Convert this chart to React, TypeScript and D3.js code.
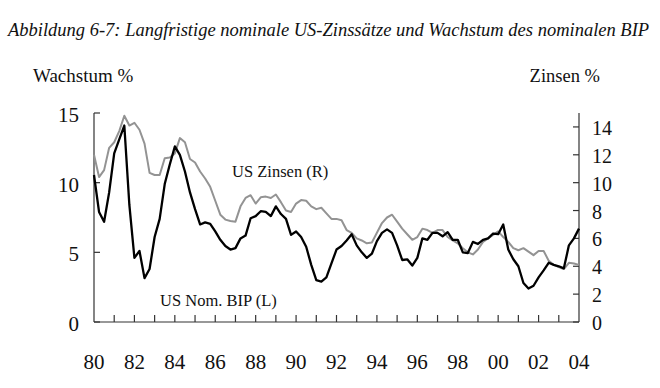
import React from 'react';
import * as d3 from 'd3';

// quarterly values, 1980Q1 .. 2004Q1
const startYear = 1980;
const bipGrowth = [
  10.55, 7.9, 7.2, 9.3, 12.1, 13.1, 14.1, 8.4, 4.6, 5.1, 3.15, 3.8,
  6.1, 7.4, 9.9, 11.3, 12.6, 12.0, 10.8, 9.3, 8.1, 7.0, 7.15, 7.05,
  6.5, 5.9, 5.45, 5.2, 5.3, 6.0, 6.2, 7.45, 7.6, 7.95, 7.9, 7.6,
  8.3, 7.75, 7.4, 6.25, 6.5, 6.1, 5.4, 4.1, 3.0, 2.9, 3.2, 4.2,
  5.2, 5.45, 5.85, 6.3, 5.5, 5.0, 4.6, 4.9, 5.8, 6.4, 6.65, 6.4,
  5.5, 4.45, 4.5, 4.05, 4.6, 6.0, 5.9, 6.4, 6.4, 6.15, 6.45, 5.9,
  5.9, 5.0, 4.95, 5.75, 5.6, 5.9, 6.0, 6.35, 6.3, 7.0, 5.2, 4.5,
  4.0, 2.8, 2.4, 2.6, 3.2, 3.7, 4.25, 4.1, 4.0, 3.85, 5.5, 6.0, 6.7,
];
const usRates = [
  12.0, 10.4, 10.9, 12.5, 12.9, 13.7, 14.8, 14.1, 14.3, 13.8, 12.8, 10.7,
  10.55, 10.55, 11.75, 11.8, 12.1, 13.2, 12.9, 11.7, 11.45, 10.8, 10.3, 9.7,
  8.7, 7.7, 7.35, 7.25, 7.2, 8.3, 8.9, 9.1, 8.5, 8.95, 9.0, 8.9,
  9.15, 8.6, 8.0, 7.9, 8.5, 8.75, 8.7, 8.3, 8.1, 8.2, 7.8, 7.4,
  7.4, 7.3, 6.6, 6.4, 6.0, 5.85, 5.65, 5.7, 6.4, 7.1, 7.5, 7.7,
  7.2, 6.7, 6.3, 5.9, 6.1, 6.7, 6.6, 6.4, 6.6, 6.6, 6.1, 5.85,
  5.65, 5.3, 5.0, 4.85, 5.2, 5.75, 6.0, 6.25, 6.5, 6.1, 5.75, 5.3,
  5.15, 5.3, 5.05, 4.8, 5.1, 5.1, 4.4, 4.1, 3.95, 3.8, 4.25, 4.2, 4.1,
];
const leftTicks = [0, 5, 10, 15];
const rightTicks = [0, 2, 4, 6, 8, 10, 12, 14];
const yearLabels = ['80', '82', '84', '86', '88', '90', '92', '94', '96', '98', '00', '02', '04'];

const W = 660;
const H = 388;
const left = 94, right = 579, top = 113, bottom = 322;
const serif = '"Liberation Serif", "Times New Roman", serif';

export default function App() {
  const x = d3.scaleLinear().domain([startYear, 2004]).range([left, right]);
  const yL = d3.scaleLinear().domain([0, 15]).range([bottom, top]);
  const yR = d3.scaleLinear().domain([0, 15]).range([bottom, top]);

  const lineL = d3.line<number>().x((_, i) => x(startYear + i / 4)).y(d => yL(d));
  const lineR = d3.line<number>().x((_, i) => x(startYear + i / 4)).y(d => yR(d));

  const yearTicks = d3.range(startYear + 1, 2004);

  return (
    <svg width={W} height={H} style={{ position: 'absolute', left: 0, top: 0, background: '#fff' }}
      fontFamily={serif}>
      <text x={8} y={36} fontSize={18.5} fontStyle="italic" fill="#111">
        Abbildung 6-7: Langfristige nominale US-Zinssätze und Wachstum des nominalen BIP
      </text>
      <text x={33} y={82} fontSize={19} fill="#111">Wachstum %</text>
      <text x={600} y={82} fontSize={18.5} fill="#111" textAnchor="end">Zinsen %</text>

      {/* axes */}
      <g stroke="#333" strokeWidth={1.2} fill="none">
        <line x1={left} x2={left} y1={top} y2={bottom} />
        <line x1={right} x2={right} y1={top} y2={bottom} />
        <line x1={left} x2={right} y1={bottom} y2={bottom} />
        {leftTicks.map(t => (
          <line key={'l' + t} x1={left} x2={left + 6} y1={yL(t)} y2={yL(t)} />
        ))}
        {rightTicks.map(t => (
          <line key={'r' + t} x1={right - 6} x2={right} y1={yR(t)} y2={yR(t)} />
        ))}
        {yearTicks.map(t => (
          <line key={'x' + t} x1={x(t)} x2={x(t)} y1={bottom} y2={bottom - 7} />
        ))}
      </g>

      {leftTicks.map(t => (
        <text key={'lt' + t} x={79} y={yL(t) + 9} fontSize={21} textAnchor="end" fill="#111">{t}</text>
      ))}
      {rightTicks.map(t => (
        <text key={'rt' + t} x={592} y={yR(t) + 8} fontSize={20} fill="#111">{t}</text>
      ))}
      {yearLabels.map((lab, i) => (
        <text key={lab} x={x(startYear + i * 2)} y={369} fontSize={21} textAnchor="middle" fill="#111">{lab}</text>
      ))}

      <path d={lineR(usRates) ?? ''} fill="none" stroke="#939393" strokeWidth={2} strokeLinejoin="round" />
      <path d={lineL(bipGrowth) ?? ''} fill="none" stroke="#000" strokeWidth={2.3} strokeLinejoin="round" />

      <text x={232} y={177} fontSize={16.5} fill="#111">US Zinsen (R)</text>
      <text x={160} y={306} fontSize={16.5} fill="#111">US Nom. BIP (L)</text>
    </svg>
  );
}
